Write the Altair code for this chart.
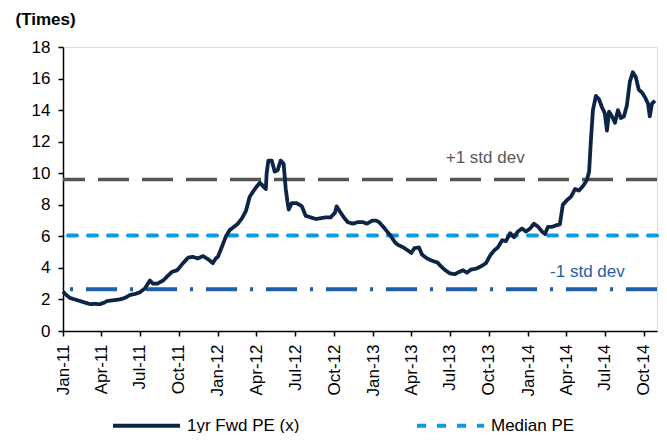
import altair as alt
import pandas as pd

dates = [
    "2011-01-01", "2011-01-08", "2011-01-17", "2011-01-29", "2011-02-10", "2011-02-22",
    "2011-03-06", "2011-03-17", "2011-03-29", "2011-04-08", "2011-04-15", "2011-05-01",
    "2011-05-15", "2011-05-27", "2011-06-08", "2011-06-20", "2011-07-01", "2011-07-13",
    "2011-07-25", "2011-08-01", "2011-08-11", "2011-08-25", "2011-09-05", "2011-09-15",
    "2011-09-27", "2011-10-11", "2011-10-23", "2011-11-03", "2011-11-15", "2011-11-27",
    "2011-12-09", "2011-12-20", "2011-12-27",
    "2012-01-01", "2012-01-10", "2012-01-20", "2012-01-29", "2012-02-08", "2012-02-17",
    "2012-02-27", "2012-03-07", "2012-03-16", "2012-03-23", "2012-03-31", "2012-04-09",
    "2012-04-16", "2012-04-23", "2012-04-25", "2012-04-29", "2012-05-07", "2012-05-14",
    "2012-05-21", "2012-05-28", "2012-06-04", "2012-06-09", "2012-06-13", "2012-06-16",
    "2012-06-23", "2012-07-05", "2012-07-17", "2012-07-26", "2012-08-07", "2012-08-19",
    "2012-08-31", "2012-09-11", "2012-09-23", "2012-10-03", "2012-10-07", "2012-10-14",
    "2012-10-24", "2012-11-02", "2012-11-14", "2012-11-26", "2012-12-08", "2012-12-17",
    "2012-12-30",
    "2013-01-08", "2013-01-15", "2013-01-25", "2013-02-03", "2013-02-12", "2013-02-22",
    "2013-03-01", "2013-03-13", "2013-03-24", "2013-04-01", "2013-04-08", "2013-04-19",
    "2013-04-26", "2013-05-08", "2013-05-20", "2013-06-01", "2013-06-10", "2013-06-20",
    "2013-07-01", "2013-07-13", "2013-07-23", "2013-08-01", "2013-08-10", "2013-08-20",
    "2013-09-01", "2013-09-12", "2013-09-24", "2013-10-04", "2013-10-13", "2013-10-22",
    "2013-11-01", "2013-11-10", "2013-11-20", "2013-11-29", "2013-12-08", "2013-12-18",
    "2013-12-27",
    "2014-01-06", "2014-01-15", "2014-01-25", "2014-02-03", "2014-02-10", "2014-02-17",
    "2014-02-27", "2014-03-08", "2014-03-17", "2014-03-24", "2014-04-03", "2014-04-12",
    "2014-04-22", "2014-05-01", "2014-05-11", "2014-05-20", "2014-05-25", "2014-05-29",
    "2014-06-03", "2014-06-10", "2014-06-17", "2014-06-24", "2014-07-01", "2014-07-06",
    "2014-07-11", "2014-07-18", "2014-07-25", "2014-08-01", "2014-08-08", "2014-08-15",
    "2014-08-22", "2014-08-29", "2014-09-05", "2014-09-12", "2014-09-19", "2014-09-27",
    "2014-10-04", "2014-10-11", "2014-10-15", "2014-10-20", "2014-10-27",
]
pe = [
    2.5, 2.3, 2.1, 2.0, 1.9, 1.8,
    1.7, 1.72, 1.7, 1.8, 1.9, 1.95,
    2.0, 2.1, 2.28, 2.35, 2.45, 2.7,
    3.2, 3.0, 3.0, 3.2, 3.5, 3.75,
    3.85, 4.3, 4.65, 4.7, 4.6, 4.75,
    4.55, 4.3, 4.6,
    4.7, 5.3, 6.0, 6.4, 6.6, 6.8,
    7.15, 7.6, 8.5, 8.8, 9.1, 9.4,
    9.2, 9.0, 10.0, 10.8, 10.8, 10.1,
    10.2, 10.8, 10.6, 9.0, 8.2, 7.7,
    8.1, 8.1, 7.9, 7.3, 7.2, 7.1,
    7.15, 7.2, 7.2, 7.5, 7.9, 7.6,
    7.2, 6.9, 6.8, 6.9, 6.9, 6.8,
    7.0,
    7.0, 6.9, 6.6, 6.3, 6.0, 5.6,
    5.45, 5.3, 5.1, 4.95, 5.25, 5.3,
    4.85, 4.6, 4.45, 4.35, 4.1, 3.85,
    3.65, 3.6, 3.75, 3.85, 3.7, 3.9,
    3.95, 4.1, 4.3, 4.8, 5.1, 5.3,
    5.75, 5.7, 6.2, 5.95, 6.3, 6.5,
    6.3,
    6.5, 6.8, 6.6, 6.3, 6.15, 6.6,
    6.6, 6.7, 6.75, 8.0, 8.3, 8.5,
    9.0, 8.9, 9.2, 9.6, 10.1, 12.0,
    14.0, 14.9, 14.7, 14.2, 13.8, 12.7,
    13.9, 13.6, 13.2, 14.0, 13.5, 13.6,
    14.3, 15.8, 16.4, 16.1, 15.3, 15.1,
    14.8, 14.4, 13.6, 14.4, 14.6,
]

series_names = ["1yr Fwd PE (x)", "Median PE"]
series_colors = ["#0e2446", "#0a9be2"]
median_value = 6.05
plus_std = 9.6
minus_std = 2.65
y_ticks = [0, 2, 4, 6, 8, 10, 12, 14, 16, 18]

label_names = ["+1 std dev", "-1 std dev"]
label_dates = ["2013-09-22", "2014-05-21"]
label_values = [10.96, 3.77]
label_colors = ["#595959", "#1f5ea8"]

df = pd.DataFrame({"date": dates, "pe": pe, "series": series_names[0]})
med_df = pd.DataFrame({"v": [median_value], "series": [series_names[1]]})
plus_df = pd.DataFrame({"v": [plus_std]})
minus_df = pd.DataFrame({"v": [minus_std]})
lab_df = pd.DataFrame({"t": label_names, "date": label_dates, "v": label_values, "c": label_colors})

FONT = "Liberation Sans"
FS = 17

x_scale = alt.Scale(
    type="utc",
    domain=[alt.DateTime(year=2011, month=1, date=1, utc=True),
            alt.DateTime(year=2014, month=11, date=1, utc=True)],
)
y_scale = alt.Scale(domain=[0, 18], nice=False, zero=True)

color_scale = alt.Scale(domain=series_names, range=series_colors)
dash_scale = alt.Scale(domain=series_names, range=[[1, 0], [9, 11]])

legend = alt.Legend(
    title=None, orient="none", legendX=48, legendY=343, direction="horizontal",
    symbolType="stroke", symbolSize=4489, symbolStrokeWidth=4,
    labelFont=FONT, labelFontSize=FS, labelColor="#000000", labelOffset=5,
    columnPadding=109,
)

x_axis = alt.Axis(
    title=None, format="%b-%y", tickCount={"interval": "month", "step": 3},
    labelAngle=-90, labelFont=FONT, labelFontSize=FS, labelColor="#000000",
    labelPadding=8, tickSize=5, tickColor="#000000", tickWidth=1.5,
    domainColor="#000000", domainWidth=1.5, grid=False, labelOverlap=False,
)
y_axis = alt.Axis(
    title="(Times)", titleAngle=0, titleX=-48, titleY=-23, titleAlign="left",
    titleBaseline="alphabetic", titleFont=FONT, titleFontSize=FS, titleFontWeight="bold",
    titleColor="#000000",
    values=y_ticks, labelFont=FONT, labelFontSize=FS, labelColor="#000000",
    labelPadding=8, tickSize=5, tickColor="#000000", tickWidth=1.5,
    domainColor="#000000", domainWidth=1.5, grid=False, labelOverlap=False,
)

plus_rule = alt.Chart(plus_df).mark_rule(color="#555555", strokeWidth=3.5, strokeDash=[31, 13]).encode(
    y=alt.Y("v:Q", scale=y_scale, axis=y_axis)
)
minus_rule = alt.Chart(minus_df).mark_rule(color="#1f5ea8", strokeWidth=4, strokeDash=[31, 13, 3, 13]).encode(
    y=alt.Y("v:Q", scale=y_scale, axis=y_axis)
)
med_rule = alt.Chart(med_df).mark_rule(strokeWidth=4, strokeCap="round").encode(
    y=alt.Y("v:Q", scale=y_scale, axis=y_axis),
    color=alt.Color("series:N", scale=color_scale, legend=legend),
    strokeDash=alt.StrokeDash("series:N", scale=dash_scale, legend=legend),
)
main = alt.Chart(df).mark_line(strokeWidth=3.8, strokeJoin="round").encode(
    x=alt.X("date:T", scale=x_scale, axis=x_axis),
    y=alt.Y("pe:Q", scale=y_scale, axis=y_axis),
    color=alt.Color("series:N", scale=color_scale, legend=legend),
    strokeDash=alt.StrokeDash("series:N", scale=dash_scale, legend=legend),
)
labels = alt.Chart(lab_df).mark_text(font=FONT, fontSize=FS, align="center", baseline="middle").encode(
    x=alt.X("date:T", scale=x_scale, axis=x_axis),
    y=alt.Y("v:Q", scale=y_scale, axis=y_axis),
    text="t:N",
    color=alt.Color("c:N", scale=None),
)

chart = alt.layer(plus_rule, minus_rule, med_rule, labels, main).properties(
    width=594, height=284,
    autosize=alt.AutoSizeParams(type="none"),
    padding={"left": 55, "top": 39, "right": 2, "bottom": 102},
).configure_view(stroke=None).configure_axis(labelOverlap=False).configure(background="#ffffff")

chart.save("out.html", embed_options={"renderer": "svg", "actions": False})
